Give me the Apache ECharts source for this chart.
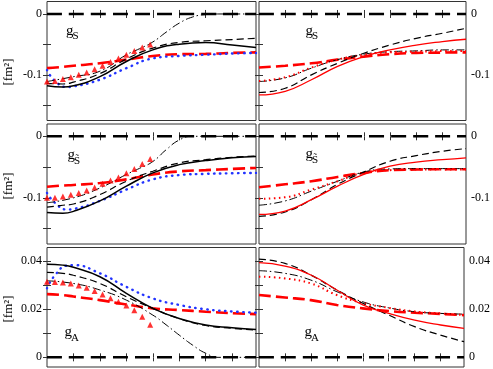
<!DOCTYPE html>
<html><head><meta charset="utf-8">
<script src="https://cdn.jsdelivr.net/npm/echarts@6/dist/echarts.min.js"></script>
<style>html,body{margin:0;padding:0;background:#fff}#c{width:493px;height:369px}</style>
</head><body><div id="c"></div>
<script>
// ---- x grids ----
const xL = [0, 0.6, 1, 2, 3, 4, 5, 6, 7, 7.9];
const xR = [0, 1, 2, 3, 4, 5, 6, 7, 7.9];
const xBlue = [0, 0.3, 0.75, 1, 2, 3, 4, 5, 6, 7, 7.9];
const xTri = [0, 0.3, 0.6, 0.9, 1.2, 1.5, 1.8, 2.1, 2.4, 2.7, 3.0, 3.3, 3.6, 3.9];
const xZero = [0, 7.9];
const yZero = [0, 0];

// ---- top-left (g_S) ----
const tlSolid  = [-0.118, -0.120, -0.118, -0.103, -0.078, -0.059, -0.0497, -0.047, -0.051, -0.055];
const tlDash   = [-0.114, -0.115, -0.112, -0.098, -0.074, -0.056, -0.0467, -0.044, -0.042, -0.040];
const tlDDx    = [0, 1, 2, 3, 3.5, 4, 4.5, 5, 5.5, 6, 6.5, 7.9];
const tlDD     = [-0.111, -0.103, -0.094, -0.067, -0.057, -0.046, -0.030, -0.015, -0.005, -0.001, 0, 0];
const tlTri    = [-0.111, -0.110, -0.107, -0.104, -0.100, -0.096, -0.091, -0.085, -0.079, -0.073, -0.067, -0.061, -0.055, -0.050];
const tlRedL   = [-0.089, -0.087, -0.085, -0.081, -0.075, -0.069, -0.066, -0.0655, -0.064, -0.063];
const tlBlue   = [-0.092, -0.110, -0.120, -0.119, -0.108, -0.089, -0.073, -0.069, -0.067, -0.065, -0.064];

// ---- top-right (g_S) ----
const trRed    = [-0.133, -0.127, -0.108, -0.086, -0.070, -0.059, -0.051, -0.0454, -0.0415];
const trDash   = [-0.129, -0.122, -0.100, -0.081, -0.0645, -0.051, -0.040, -0.0317, -0.0235];
const trDD     = [-0.111, -0.105, -0.089, -0.075, -0.066, -0.062, -0.0606, -0.059, -0.059];
const trDot    = [-0.110, -0.104, -0.088, -0.075, -0.067, -0.063, -0.062, -0.061, -0.061];
const trRedL   = [-0.088, -0.085, -0.081, -0.075, -0.070, -0.066, -0.064, -0.0634, -0.063];

// ---- middle-left (g_S~) ----
const mlSolid  = [-0.124, -0.125, -0.122, -0.105, -0.081, -0.0595, -0.046, -0.0395, -0.035, -0.033];
const mlDash   = [-0.115, -0.112, -0.110, -0.0946, -0.073, -0.0567, -0.0433, -0.038, -0.034, -0.032];
const mlDDx    = [0, 1, 2, 3, 3.5, 4, 4.5, 5, 5.5, 6, 7.9];
const mlDD     = [-0.108, -0.100, -0.084, -0.062, -0.052, -0.041, -0.022, -0.006, 0, 0, 0];
const mlTri    = [-0.100, -0.100, -0.098, -0.095, -0.092, -0.088, -0.083, -0.077, -0.072, -0.067, -0.060, -0.053, -0.045, -0.037];
const mlRedL   = [-0.082, -0.080, -0.079, -0.076, -0.070, -0.062, -0.057, -0.055, -0.053, -0.0514];
const mlBlue   = [-0.092, -0.108, -0.119, -0.118, -0.105, -0.0865, -0.070, -0.063, -0.061, -0.060, -0.0595];

// ---- middle-right (g_S~) ----
const mrRed    = [-0.127, -0.1215, -0.103, -0.081, -0.062, -0.0486, -0.042, -0.038, -0.035];
const mrDash   = [-0.130, -0.123, -0.103, -0.078, -0.058, -0.0405, -0.0314, -0.0243, -0.020];
const mrDD     = [-0.112, -0.105, -0.089, -0.073, -0.058, -0.053, -0.0525, -0.0525, -0.0525];
const mrDot    = [-0.1016, -0.099, -0.0865, -0.073, -0.059, -0.055, -0.054, -0.054, -0.054];
const mrRedL   = [-0.0827, -0.078, -0.073, -0.066, -0.0595, -0.055, -0.054, -0.0535, -0.0535];

// ---- bottom-left (g_A) ----
const blSolid  = [0.0386, 0.0382, 0.0373, 0.0334, 0.0265, 0.0203, 0.0161, 0.0134, 0.0123, 0.0115];
const blDash   = [0.0352, 0.0348, 0.0340, 0.0306, 0.0251, 0.0203, 0.0160, 0.0132, 0.0120, 0.0113];
const blDDx    = [0, 1, 2, 3, 4, 4.5, 5, 5.5, 6, 6.5, 7.9];
const blDD     = [0.0317, 0.0306, 0.0279, 0.0237, 0.0175, 0.0135, 0.0092, 0.0051, 0.0017, 0, 0];
const blTri    = [0.0313, 0.0312, 0.0310, 0.0306, 0.0298, 0.0288, 0.0275, 0.0260, 0.0245, 0.0230, 0.0215, 0.0195, 0.0168, 0.0135];
const blRedL   = [0.0262, 0.0258, 0.0252, 0.0237, 0.0219, 0.0203, 0.0196, 0.0189, 0.0183, 0.0179];
const blBlue   = [0.0286, 0.0340, 0.0380, 0.0382, 0.0348, 0.0292, 0.0244, 0.0217, 0.0199, 0.0190, 0.0185];

// ---- bottom-right (g_A) ----
const brDash   = [0.0407, 0.0389, 0.0341, 0.0279, 0.0224, 0.0175, 0.0127, 0.0092, 0.0065];
const brRed    = [0.0392, 0.0378, 0.0341, 0.0279, 0.0217, 0.0182, 0.0154, 0.0134, 0.0120];
const brDD     = [0.0359, 0.0348, 0.0320, 0.0272, 0.0230, 0.0205, 0.0189, 0.0182, 0.0179];
const brDot    = [0.0334, 0.0327, 0.0306, 0.0258, 0.0225, 0.0205, 0.0190, 0.0182, 0.0175];
const brRedL   = [0.0258, 0.0248, 0.0237, 0.0217, 0.0203, 0.0192, 0.0185, 0.0180, 0.0175];

// ---- axis ticks / labels ----
const xTicks = [1, 2, 3, 4, 5, 6, 7];
const gTicks = [0, -0.05, -0.1, -0.15];
const gLabels = [0, -0.1];
const aTicks = [0, 0.01, 0.02, 0.03, 0.04];
const aLabels = [0, 0.02, 0.04];

const SERIF = '"Liberation Serif","DejaVu Serif",serif';
const chart = echarts.init(document.getElementById('c'), null, {renderer: 'canvas'});

const gridDefs = [
  {left: 47, top: 1.5, width: 209, height: 119, min: -0.175, max: 0.0205, ticks: gTicks, labels: gLabels, side: 'left'},
  {left: 259, top: 1.5, width: 209, height: 119, min: -0.175, max: 0.0205, ticks: gTicks, labels: gLabels, side: 'right'},
  {left: 47, top: 124, width: 209, height: 120, min: -0.175, max: 0.02, ticks: gTicks, labels: gLabels, side: 'left'},
  {left: 259, top: 124, width: 209, height: 120, min: -0.175, max: 0.02, ticks: gTicks, labels: gLabels, side: 'right'},
  {left: 47, top: 247.5, width: 209, height: 119.5, min: -0.004, max: 0.0455, ticks: aTicks, labels: aLabels, side: 'left'},
  {left: 259, top: 247.5, width: 209, height: 119.5, min: -0.004, max: 0.0455, ticks: aTicks, labels: aLabels, side: 'right'}
];

const grid = [], xAxis = [], yAxis = [];
gridDefs.forEach((g, i) => {
  grid.push({left: g.left, top: g.top, width: g.width, height: g.height, show: true,
    borderColor: '#333', borderWidth: 1, backgroundColor: 'transparent', containLabel: false});
  ['bottom', 'top'].forEach(pos => xAxis.push({
    type: 'value', gridIndex: i, position: pos, min: 0, max: 7.9,
    axisLine: {show: false}, splitLine: {show: false},
    axisTick: {show: true, inside: true, length: 4, customValues: xTicks, lineStyle: {color: '#333'}},
    axisLabel: {show: false}
  }));
  const other = g.side === 'left' ? 'right' : 'left';
  yAxis.push({
    type: 'value', gridIndex: i, position: g.side, min: g.min, max: g.max,
    axisLine: {show: false}, splitLine: {show: false},
    axisTick: {show: true, inside: true, length: 4, customValues: g.ticks, lineStyle: {color: '#333'}},
    axisLabel: {show: true, customValues: g.labels, margin: 5, color: '#000', fontFamily: SERIF, fontSize: 12,
      formatter: v => (Math.abs(v) < 1e-9 ? '0' : String(+v.toFixed(3)))}
  });
  yAxis.push({
    type: 'value', gridIndex: i, position: other, min: g.min, max: g.max,
    axisLine: {show: false}, splitLine: {show: false},
    axisTick: {show: true, inside: true, length: 4, customValues: g.ticks, lineStyle: {color: '#333'}},
    axisLabel: {show: false}
  });
});

const ST = {
  zero:  {color: '#000', width: 2.5, type: [15, 7]},
  solid: {color: '#000', width: 1.5, type: 'solid'},
  dash:  {color: '#000', width: 1.2, type: [7, 4]},
  dd:    {color: '#000', width: 1, type: [8, 3, 1.5, 3]},
  redL:  {color: '#ff0000', width: 2.6, type: [12, 5]},
  blue:  {color: '#2233ff', width: 2.4, type: [0.5, 5.5], cap: 'round'},
  red:   {color: '#ff0000', width: 1.3, type: 'solid'},
  dot:   {color: '#ff0000', width: 2, type: [1.5, 3.5]}
};

const series = [];
function line(gi, xs, ys, st) {
  series.push({type: 'line', xAxisIndex: 2 * gi, yAxisIndex: 2 * gi, data: xs.map((x, k) => [x, ys[k]]),
    symbol: 'none', smooth: 0.5, lineStyle: st, silent: true, z: 2});
}
function tri(gi, xs, ys) {
  series.push({type: 'scatter', xAxisIndex: 2 * gi, yAxisIndex: 2 * gi, data: xs.map((x, k) => [x, ys[k]]),
    symbol: 'triangle', symbolSize: 6, itemStyle: {color: '#ff0000'}, silent: true, z: 3});
}

// top-left
line(0, xZero, yZero, ST.zero);
line(0, xL, tlRedL, ST.redL);
line(0, xBlue, tlBlue, ST.blue);
line(0, tlDDx, tlDD, ST.dd);
tri(0, xTri, tlTri);
line(0, xL, tlDash, ST.dash);
line(0, xL, tlSolid, ST.solid);
// top-right
line(1, xZero, yZero, ST.zero);
line(1, xR, trRedL, ST.redL);
line(1, xR, trDD, ST.dd);
line(1, xR, trDot, ST.dot);
line(1, xR, trDash, ST.dash);
line(1, xR, trRed, ST.red);
// middle-left
line(2, xZero, yZero, ST.zero);
line(2, xL, mlRedL, ST.redL);
line(2, xBlue, mlBlue, ST.blue);
line(2, mlDDx, mlDD, ST.dd);
tri(2, xTri, mlTri);
line(2, xL, mlDash, ST.dash);
line(2, xL, mlSolid, ST.solid);
// middle-right
line(3, xZero, yZero, ST.zero);
line(3, xR, mrRedL, ST.redL);
line(3, xR, mrDD, ST.dd);
line(3, xR, mrDot, ST.dot);
line(3, xR, mrDash, ST.dash);
line(3, xR, mrRed, ST.red);
// bottom-left
line(4, xZero, yZero, ST.zero);
line(4, xL, blRedL, ST.redL);
line(4, xBlue, blBlue, ST.blue);
line(4, blDDx, blDD, ST.dd);
tri(4, xTri, blTri);
line(4, xL, blDash, ST.dash);
line(4, xL, blSolid, ST.solid);
// bottom-right
line(5, xZero, yZero, ST.zero);
line(5, xR, brRedL, ST.redL);
line(5, xR, brDD, ST.dd);
line(5, xR, brDot, ST.dot);
line(5, xR, brDash, ST.dash);
line(5, xR, brRed, ST.red);

// text labels
const graphic = [];
[72, 186, 309].forEach(cy => graphic.push({type: 'text', x: 9, y: cy, rotation: Math.PI / 2,
  style: {text: '[fm²]', font: '13px ' + SERIF, fill: '#000', align: 'center', verticalAlign: 'middle'}}));
const panelLabels = [
  {gx: 66, gy: 39, sub: 'S', sx: 72.5, sy: 42},
  {gx: 305.5, gy: 39, sub: 'S', sx: 312, sy: 42},
  {gx: 67.5, gy: 163, sub: 'S\u0303', sx: 74, sy: 166.5},
  {gx: 305.5, gy: 162, sub: 'S\u0303', sx: 312, sy: 165.5},
  {gx: 64.5, gy: 340, sub: 'A', sx: 71, sy: 344},
  {gx: 304.5, gy: 340, sub: 'A', sx: 311, sy: 344}
];
panelLabels.forEach(p => {
  graphic.push({type: 'text', x: p.gx, y: p.gy, style: {text: 'g', font: '15px ' + SERIF, fill: '#000', align: 'left', verticalAlign: 'bottom'}});
  graphic.push({type: 'text', x: p.sx, y: p.sy, style: {text: p.sub, font: '11px ' + SERIF, fill: '#000', align: 'left', verticalAlign: 'bottom'}});
});

chart.setOption({animation: false, backgroundColor: '#fff', grid, xAxis, yAxis, series, graphic});
</script>
</body></html>
